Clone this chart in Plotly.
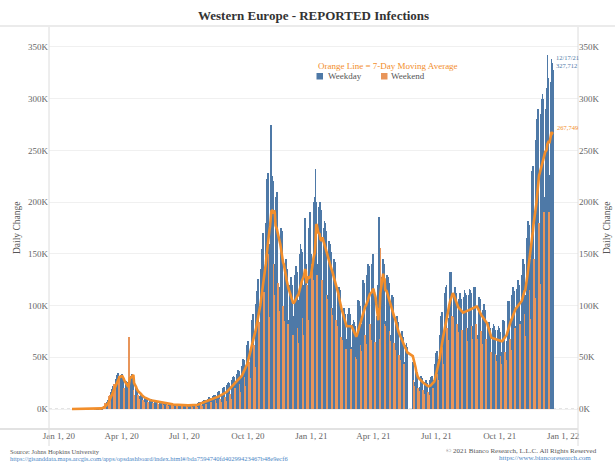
import pandas as pd
import plotly.graph_objects as go

# ---------------- data (daily reported infections, thousands) ----------------
start_date = "2020-01-20"  # Monday; one row per week Mon..Sun
daily_cases_k = [
    0, 0, 0, 0, 0, 0, 0,
    0, 0, 0, 0, 0, 0, 0,
    0, 0, 0, 0, 0, 0, 0,
    0, 0, 0, 0, 0, 0, 0,
    0, 0, 0, 0, 0, 0.1, 0.2,
    0.1, 0.1, 0.2, 0.3, 0.4, 0.6, 0.9,
    0.8, 1.1, 1.5, 2.0, 2.6, 3.6, 5.6,
    4.5, 5.5, 7, 8.5, 11, 13, 13.5,
    14, 16, 19, 22, 24, 24, 21,
    26, 29, 33, 34, 35, 32, 28,
    27, 33, 34, 33, 30, 20, 15,
    18, 24, 27, 26, 24, 18, 70,
    20, 26, 32, 34, 31, 18, 14,
    14, 18, 20, 20, 19, 14, 10,
    11, 13, 15, 14, 13, 9, 7,
    8, 11, 12, 11, 10, 7, 6,
    7, 9, 10, 10, 9, 6, 5,
    6, 8, 8.5, 8.5, 8, 5.5, 4.5,
    5, 7, 7.5, 7, 7, 5, 3.5,
    4.5, 6, 6, 6, 5.5, 4, 3,
    4, 5.5, 5.5, 5.5, 5, 3.5, 2.5,
    3.5, 5, 5, 5, 4.5, 3, 2.5,
    3, 4.5, 4.5, 4.5, 4, 2.5, 2,
    3, 4, 4.5, 4.5, 4, 2.5, 2,
    3, 4.2, 4.5, 4.5, 4.2, 2.6, 2,
    3.2, 4.6, 5, 5.2, 5, 3, 2.4,
    4.2, 6, 6.8, 7, 7, 4.2, 3.3,
    5.5, 8, 8.6, 8.8, 8.6, 5.2, 4.3,
    7, 10, 11, 11.5, 11, 7, 5.5,
    9, 12.5, 13.5, 14, 13.5, 8.5, 6,
    10.5, 15, 16, 17, 16, 10, 6.5,
    13, 18, 20, 21, 20, 12, 8,
    16, 23, 25, 26, 25, 15, 10,
    20, 28, 31, 32, 31, 20, 13,
    24, 34, 37, 38, 37, 24, 16,
    30, 42, 46, 48, 47, 31, 22,
    40, 55, 62, 66, 66, 45, 30,
    55, 76, 86, 92, 92, 62, 41,
    74, 102, 114, 124, 126, 84, 55,
    98, 135, 155, 168, 170, 113, 71,
    130, 180, 205, 222, 228, 150, 89,
    160, 275, 215, 225, 220, 140, 110,
    140, 192, 205, 210, 198, 122, 95,
    118, 165, 175, 172, 165, 100, 85,
    98, 138, 145, 142, 135, 82, 72,
    86, 120, 128, 126, 120, 72, 62,
    90, 130, 138, 138, 132, 78, 64,
    105, 150, 160, 155, 152, 88, 72,
    120, 175, 185, 140, 70, 120, 86,
    110, 175, 190, 150, 90, 140, 125,
    150, 200, 205, 232, 200, 130, 87,
    140, 195, 200, 198, 192, 125, 112,
    125, 175, 182, 180, 172, 110, 106,
    110, 158, 162, 160, 152, 98, 91,
    98, 140, 145, 142, 135, 86, 80,
    82, 112, 118, 115, 108, 70, 67,
    68, 92, 98, 96, 92, 58, 56,
    68, 92, 98, 98, 92, 58, 54,
    60, 82, 86, 84, 80, 50, 48,
    70, 98, 105, 104, 100, 62, 56,
    82, 118, 125, 122, 118, 72, 63,
    92, 130, 140, 138, 135, 82, 67,
    95, 140, 150, 145, 110, 65, 51,
    50, 90, 115, 120, 186, 68, 156,
    88, 128, 145, 145, 140, 82, 80,
    85, 122, 130, 128, 122, 75, 66,
    72, 102, 110, 108, 103, 64, 57,
    58, 85, 90, 88, 84, 52, 47,
    50, 70, 75, 73, 70, 44, 38,
    45, 62, 64, 60, None, None, None,
    None, None, None, None, 45, 28, 22,
    26, 36, 38, 36, 34, 20, 17,
    21, 30, 32, 30, 28, 18, 15,
    18, 26, 28, 27, 25, 16, 14,
    19, 28, 31, 32, 32, 20, 15,
    28, 44, 50, 54, 56, 34, 28,
    48, 72, 82, 90, 94, 60, 44,
    70, 100, 112, 118, 120, 78, 67,
    88, 125, 132, 132, 128, 90, 89,
    80, 112, 118, 115, 112, 82, 74,
    75, 106, 112, 110, 106, 76, 66,
    76, 108, 115, 112, 110, 78, 66,
    78, 110, 116, 115, 112, 80, 68,
    80, 112, 118, 118, 115, 82, 68,
    72, 102, 108, 106, 104, 75, 63,
    68, 96, 102, 100, 96, 68, 58,
    56, 80, 84, 82, 78, 55, 48,
    54, 78, 82, 80, 76, 53, 46,
    52, 76, 80, 78, 74, 51, 44,
    55, 80, 86, 85, 82, 55, 47,
    66, 96, 104, 104, 100, 68, 57,
    76, 110, 118, 118, 114, 78, 65,
    80, 116, 125, 125, 120, 82, 66,
    85, 130, 142, 145, 140, 92, 71,
    110, 165, 178, 182, 178, 115, 87,
    145, 210, 230, 235, 230, 145, 107,
    180, 260, 280, 290, 285, 180, 121,
    200, 285, 300, 305, 300, 190, 156,
    205, 290, 310, 342, 320, 190, 142,
    226, 316, 338, 334.528, 327.712,
]

tick_dates = ["2020-01-01", "2020-04-01", "2020-07-01", "2020-10-01", "2021-01-01",
              "2021-04-01", "2021-07-01", "2021-10-01", "2022-01-01"]
tick_labels = ["Jan 1, 20", "Apr 1, 20", "Jul 1, 20", "Oct 1, 20", "Jan 1, 21",
               "Apr 1, 21", "Jul 1, 21", "Oct 1, 21", "Jan 1, 22"]
y_tick_values = [0, 50000, 100000, 150000, 200000, 250000, 300000, 350000]
y_tick_labels = ["0K", "50K", "100K", "150K", "200K", "250K", "300K", "350K"]

# ---------------- derived series ----------------
dates = pd.date_range(start_date, periods=len(daily_cases_k), freq="D")
cases = pd.Series(daily_cases_k, index=dates, dtype=float) * 1000
is_weekend = cases.index.dayofweek >= 5
weekday_vals = cases.where(~is_weekend)
weekend_vals = cases.where(is_weekend)
reported = cases.dropna()
moving_avg = reported.rolling(7, min_periods=1).mean()

# ---------------- styling ----------------
BLUE = "#4e79a7"
WEEKEND = "#e8955a"
MA_COLOR = "#f28e2b"
SERIF = "Liberation Serif"
GREY = "#666666"
DAY_MS = 86400000

L, R, T, B = 49, 37, 30, 33
W, H = 615, 462
PW, PH = W - L - R, H - T - B


def px_x(px):
    return (px - L) / PW


def px_y(py):
    return (H - B - py) / PH


fig = go.Figure()
fig.add_trace(go.Bar(x=dates, y=weekday_vals, width=DAY_MS, marker_color=BLUE,
                     marker_line_width=0, name="Weekday"))
fig.add_trace(go.Bar(x=dates, y=weekend_vals, width=DAY_MS, marker_color=WEEKEND,
                     marker_line_width=0, name="Weekend"))
fig.add_trace(go.Scatter(x=moving_avg.index, y=moving_avg.values, mode="lines",
                         line=dict(color=MA_COLOR, width=2.6), yaxis="y2",
                         name="7-Day Moving Average"))

yrange = [-19300, 366400]
fig.update_layout(
    width=W, height=H,
    margin=dict(l=L, r=R, t=T, b=B),
    plot_bgcolor="white", paper_bgcolor="white",
    showlegend=False, barmode="overlay", bargap=0,
    xaxis=dict(type="date", range=["2019-12-17 16:00", "2022-01-22 10:00"],
               tickvals=tick_dates, ticktext=tick_labels, showgrid=False,
               showline=False, zeroline=False, ticks="",
               tickfont=dict(family=SERIF, size=9, color=GREY)),
    yaxis=dict(range=yrange, tickvals=y_tick_values, ticktext=y_tick_labels,
               showgrid=True, gridcolor="#f0f0f0", gridwidth=1, zeroline=False,
               showline=False, ticks="",
               tickfont=dict(family=SERIF, size=9, color=GREY)),
    yaxis2=dict(range=yrange, overlaying="y", side="right", tickvals=y_tick_values,
                ticktext=y_tick_labels, showgrid=False, zeroline=False, showline=False,
                ticks="", tickfont=dict(family=SERIF, size=9, color=GREY)),
)

line_col = "#dcdcdc"
shapes = [
    # title separator
    dict(type="line", xref="paper", yref="paper", x0=px_x(0), x1=px_x(W),
         y0=px_y(26), y1=px_y(26), line=dict(color="#e4e4e4", width=1.5)),
    # left / right axis frame lines
    dict(type="line", xref="paper", yref="paper", x0=0, x1=0, y0=px_y(446), y1=px_y(27),
         line=dict(color=line_col, width=1)),
    dict(type="line", xref="paper", yref="paper", x0=1, x1=1, y0=px_y(446), y1=px_y(27),
         line=dict(color=line_col, width=1)),
    # bottom axis line
    dict(type="line", xref="paper", yref="paper", x0=px_x(0), x1=1, y0=0, y1=0,
         line=dict(color="#e2e2e2", width=2)),
    # dotted zero line
    dict(type="line", xref="paper", yref="y", x0=0, x1=1, y0=0, y1=0, layer="below",
         line=dict(color="#c8c8c8", width=1, dash="dot")),
    # legend swatches
    dict(type="rect", xref="paper", yref="paper", x0=px_x(316.5), x1=px_x(323),
         y0=px_y(79.5), y1=px_y(73), fillcolor=BLUE, line=dict(width=0)),
    dict(type="rect", xref="paper", yref="paper", x0=px_x(381), x1=px_x(387.5),
         y0=px_y(79.5), y1=px_y(73), fillcolor=WEEKEND, line=dict(width=0)),
]
fig.update_layout(shapes=shapes)

last_date = reported.index[-1]
last_val = reported.iloc[-1]
last_ma = moving_avg.iloc[-1]

annotations = [
    dict(text="<b>Western Europe - REPORTED Infections</b>", xref="paper", yref="paper",
         x=0.5, y=px_y(16), showarrow=False, xanchor="center", yanchor="middle",
         font=dict(family=SERIF, size=13, color="#333333")),
    dict(text="Orange Line = 7-Day Moving Average", xref="paper", yref="paper",
         x=px_x(316), y=px_y(65.5), showarrow=False, xanchor="left", yanchor="middle",
         font=dict(family=SERIF, size=9, color=MA_COLOR)),
    dict(text="Weekday", xref="paper", yref="paper", x=px_x(326), y=px_y(76.5),
         showarrow=False, xanchor="left", yanchor="middle",
         font=dict(family=SERIF, size=9, color="#555555")),
    dict(text="Weekend", xref="paper", yref="paper", x=px_x(389), y=px_y(76.5),
         showarrow=False, xanchor="left", yanchor="middle",
         font=dict(family=SERIF, size=9, color="#555555")),
    dict(text=f"{last_date.month}/{last_date.day}/{last_date:%y}<br>{last_val:,.0f}",
         x=last_date, y=last_val, xref="x", yref="y", showarrow=False,
         xanchor="left", yanchor="bottom", xshift=1, yshift=-1, align="left",
         font=dict(family=SERIF, size=6.5, color=BLUE)),
    dict(text=f"{last_ma:,.0f}", x=last_date, y=last_ma, xref="x", yref="y",
         showarrow=False, xanchor="left", yanchor="bottom", xshift=2, yshift=-1,
         font=dict(family=SERIF, size=6.5, color=MA_COLOR)),
    dict(text="Daily Change", xref="paper", yref="paper", x=px_x(17), y=px_y(228),
         textangle=-90, showarrow=False, xanchor="center", yanchor="middle",
         font=dict(family=SERIF, size=9.5, color="#555555")),
    dict(text="Daily Change", xref="paper", yref="paper", x=px_x(607), y=px_y(228),
         textangle=-90, showarrow=False, xanchor="center", yanchor="middle",
         font=dict(family=SERIF, size=9.5, color="#555555")),
    dict(text="Source: Johns Hopkins University", xref="paper", yref="paper",
         x=px_x(8), y=px_y(451), showarrow=False, xanchor="left", yanchor="middle",
         font=dict(family=SERIF, size=6.5, color="#555555")),
    dict(text="https://gisanddata.maps.arcgis.com/apps/opsdashboard/index.html#/bda7594740fd40299423467b48e9ecf6",
         xref="paper", yref="paper", x=px_x(8), y=px_y(458), showarrow=False,
         xanchor="left", yanchor="middle",
         font=dict(family=SERIF, size=6.5, color="#4a86c5")),
    dict(text="\u00a9 2021 Bianco Research, L.L.C. All Rights Reserved", xref="paper",
         yref="paper", x=px_x(444), y=px_y(451), showarrow=False, xanchor="left",
         yanchor="middle", font=dict(family=SERIF, size=7, color="#555555")),
    dict(text="https://www.biancoresearch.com", xref="paper", yref="paper",
         x=px_x(497), y=px_y(458), showarrow=False, xanchor="left", yanchor="middle",
         font=dict(family=SERIF, size=7, color="#4a86c5")),
]
fig.update_layout(annotations=annotations)

fig.write_html("out.html", config={"displayModeBar": False},
               post_script="document.body.style.margin='0';document.body.style.padding='0';")
